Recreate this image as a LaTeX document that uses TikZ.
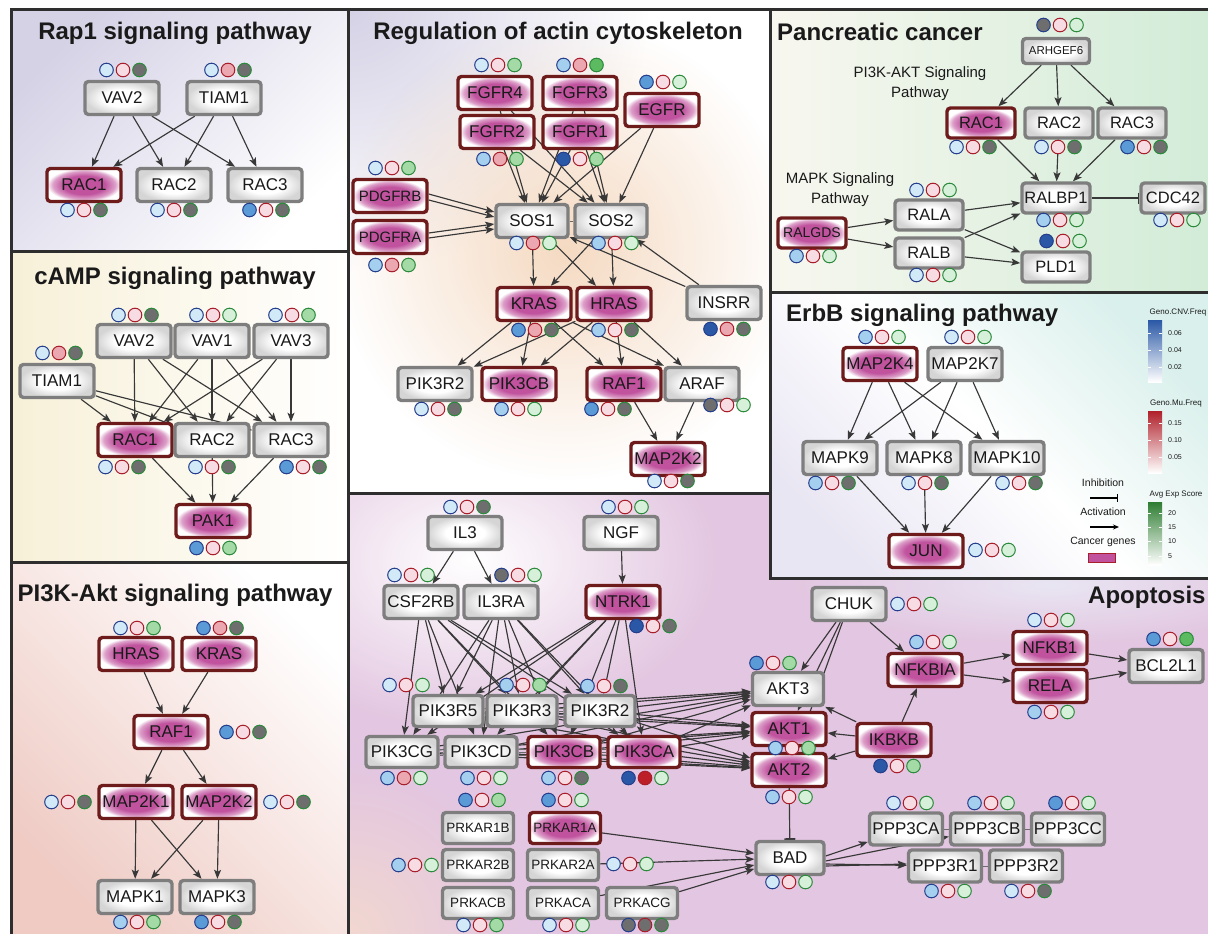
\documentclass[tikz,border=0pt]{standalone}
\usepackage{fontspec}
\setmainfont{Liberation Sans}
\usetikzlibrary{arrows.meta,fadings}

\definecolor{txt}{HTML}{1A1A1A}
\definecolor{edgec}{HTML}{383838}
\definecolor{frm}{HTML}{2E2E2E}
\definecolor{gbord}{HTML}{7E7E7E}
\definecolor{gshade}{HTML}{D5D5D5}
\definecolor{cbord}{HTML}{6E1B1B}
\definecolor{cpA}{HTML}{C0529E}
\definecolor{cpB}{HTML}{DC9FC8}
\definecolor{bbd}{HTML}{253F8C}
\definecolor{rbd}{HTML}{A81F2B}
\definecolor{gbd}{HTML}{2C8A3C}
\definecolor{bA}{HTML}{D2E9F8}
\definecolor{bB}{HTML}{A4CFEE}
\definecolor{bC}{HTML}{5A9AD6}
\definecolor{bD}{HTML}{2A58A6}
\definecolor{gy}{HTML}{6E6E6E}
\definecolor{rA}{HTML}{F8DCE3}
\definecolor{rB}{HTML}{EBA8B1}
\definecolor{rC}{HTML}{BC1F28}
\definecolor{eA}{HTML}{D7F0D9}
\definecolor{eB}{HTML}{A3DAA6}
\definecolor{eC}{HTML}{5CBA61}
\definecolor{lavA}{HTML}{D5D2E6}
\definecolor{creamA}{HTML}{F7F0D8}
\definecolor{salA}{HTML}{EFCBC4}
\definecolor{peachA}{HTML}{F5DAC2}
\definecolor{greenA}{HTML}{D2ECD8}
\definecolor{offw}{HTML}{F8F7EF}
\definecolor{cyanA}{HTML}{DAF0EC}
\definecolor{lavB}{HTML}{E9E6F3}
\definecolor{apink}{HTML}{E3C6E1}
\definecolor{apeach}{HTML}{F2D8D0}
\definecolor{cbBlue}{HTML}{6AA8DE}
\definecolor{cbRed}{HTML}{E04848}
\definecolor{cbRedD}{HTML}{B0202A}
\definecolor{cbGreen}{HTML}{6CC070}
\definecolor{cbGreenD}{HTML}{2E7D32}

\tikzfading[name=softfade, inner color=transparent!0, outer color=transparent!100]

\pgfdeclareradialshading{gglow}{\pgfpoint{0bp}{0bp}}{color(0bp)=(white); color(13bp)=(white); color(25bp)=(gshade); color(50bp)=(gshade)}
\pgfdeclareradialshading{cglow}{\pgfpoint{0bp}{0bp}}{color(0bp)=(cpA); color(14bp)=(cpA); color(21bp)=(cpB); color(25bp)=(white); color(50bp)=(white)}

\pgfdeclarelayer{bg}
\pgfdeclarelayer{edges}
\pgfsetlayers{bg,edges,main}

\newcommand\bdg[5]{%
  \draw[line width=1pt,draw=bbd,fill=#3] (#1-16.5,#2) circle[radius=6.8pt];
  \draw[line width=1pt,draw=rbd,fill=#4] (#1,#2) circle[radius=6.8pt];
  \draw[line width=1pt,draw=gbd,fill=#5] (#1+16.5,#2) circle[radius=6.8pt];}

\tikzset{
  base/.style={rounded corners=3.5pt, line width=3.4pt, minimum width=74pt, minimum height=33pt,
    inner sep=1pt, font=\fontsize{17}{19}\selectfont, text=txt},
  gn/.style={base, draw=gbord, shade, shading=gglow},
  cn/.style={base, draw=cbord, shade, shading=cglow},
  fs15/.style={font=\fontsize{15}{17}\selectfont},
  fs14/.style={font=\fontsize{14}{16}\selectfont},
  fs11/.style={font=\fontsize{11.5}{13}\selectfont},
  pw/.style={minimum width=68pt, minimum height=30pt, font=\fontsize{16.5}{18}\selectfont},
  rw/.style={minimum width=70pt, minimum height=31pt},
  cw/.style={minimum width=72pt, minimum height=31pt},
  sw/.style={minimum width=71pt, minimum height=31pt, font=\fontsize{13.5}{15}\selectfont},
  pp/.style={minimum width=73pt, minimum height=32pt},
  ar/.style={draw=edgec, line width=1.15pt, -{Stealth[length=9pt, width=7pt, inset=2pt]}},
  inh/.style={draw=edgec, line width=1.15pt, -{Bar[width=11pt, line width=1.6pt]}},
  lnk/.style={draw=edgec!75, line width=0.7pt},
  ttl/.style={font=\bfseries\fontsize{24}{26}\selectfont, text=txt, inner sep=0pt},
  sub/.style={font=\fontsize{15}{20}\selectfont, text=txt, align=center, inner sep=0pt},
  lg/.style={font=\fontsize{10.5}{12}\selectfont, text=txt, inner sep=0pt},
  cbt/.style={font=\fontsize{8}{9}\selectfont, text=txt, inner sep=0pt},
  cbl/.style={font=\fontsize{7}{8}\selectfont, text=txt, inner sep=0pt, anchor=west},
  panelframe/.style={draw=frm, line width=3pt}
}

\begin{document}
\begin{tikzpicture}[x=1pt,y=-1pt]
\useasboundingbox (0,0) rectangle (1208,934);

% ---------- backgrounds ----------
\begin{pgfonlayer}{bg}
\fill[white] (0,0) rectangle (1208,934);
\shade[top color=lavA, bottom color=white, shading angle=45] (11,10) rectangle (348,251);
\shade[top color=creamA, bottom color=white, shading angle=90] (11,251) rectangle (348,562);
\shade[top color=salA, bottom color=white, shading angle=135] (11,562) rectangle (348,934);
\begin{scope}
  \clip (348,10) rectangle (770,493);
  \fill[white] (348,10) rectangle (770,493);
  \fill[lavA, path fading=softfade] (348,10) ellipse (300pt and 260pt);
  \fill[peachA, path fading=softfade] (565,250) ellipse (230pt and 230pt);
\end{scope}
\shade[top color=greenA, bottom color=offw, shading angle=-90] (770,10) rectangle (1208,292);
\shade[top color=cyanA, bottom color=lavB, middle color=white, shading angle=-45] (770,292) rectangle (1208,578);
\fill[apink] (348,493) -- (770,493) -- (770,578) -- (1208,578) -- (1208,934) -- (348,934) -- cycle;
\begin{scope}
  \clip (348,493) -- (770,493) -- (770,578) -- (1208,578) -- (1208,934) -- (348,934) -- cycle;
  \fill[white, path fading=softfade] (470,560) ellipse (250pt and 170pt);
  \fill[apeach, path fading=softfade] (348,934) ellipse (170pt and 170pt);
  \fill[lavB, path fading=softfade] (1050,585) ellipse (260pt and 60pt);
\end{scope}
\end{pgfonlayer}

% ---------- titles ----------
\node[ttl] (t1) at (175,33) {Rap1 signaling pathway};
\node[ttl] (t2) at (175,278) {cAMP signaling pathway};
\node[ttl] (t3) at (175,595) {PI3K-Akt signaling pathway};
\node[ttl] (t4) at (558,33) {Regulation of actin cytoskeleton};
\node[ttl,anchor=west] (t5) at (777,32) {Pancreatic cancer};
\node[ttl,anchor=west] (t6) at (786,315) {ErbB signaling pathway};
\node[ttl,anchor=west] (t7) at (1088,597) {Apoptosis};
\node[sub] (pcs1) at (920,84) {PI3K-AKT Signaling\\Pathway};
\node[sub] (pcs2) at (840,190) {MAPK Signaling\\Pathway};

% ---------- nodes ----------
% Rap1
\node[gn] (r1vav2) at (122,98) {VAV2};
\node[gn] (r1tiam1) at (224,98) {TIAM1};
\node[cn] (r1rac1) at (84,185) {RAC1};
\node[gn] (r1rac2) at (174,185) {RAC2};
\node[gn] (r1rac3) at (265,185) {RAC3};
% cAMP
\node[gn] (cavav2) at (134,341) {VAV2};
\node[gn] (cavav1) at (212,341) {VAV1};
\node[gn] (cavav3) at (291,341) {VAV3};
\node[gn] (catiam1) at (57,381) {TIAM1};
\node[cn] (carac1) at (135,440) {RAC1};
\node[gn] (carac2) at (212,440) {RAC2};
\node[gn] (carac3) at (291,440) {RAC3};
\node[cn] (capak1) at (213,521) {PAK1};
% PI3K-Akt
\node[cn] (pkhras) at (136,654) {HRAS};
\node[cn] (pkkras) at (219,654) {KRAS};
\node[cn] (pkraf1) at (171,732) {RAF1};
\node[cn] (pkmap2k1) at (136,802) {MAP2K1};
\node[cn] (pkmap2k2) at (219,802) {MAP2K2};
\node[gn] (pkmapk1) at (135,897) {MAPK1};
\node[gn] (pkmapk3) at (217,897) {MAPK3};
% Regulation of actin cytoskeleton
\node[cn] (rgfgfr4) at (495,93) {FGFR4};
\node[cn] (rgfgfr3) at (580,93) {FGFR3};
\node[cn] (rgegfr) at (662,110) {EGFR};
\node[cn] (rgfgfr2) at (497,132) {FGFR2};
\node[cn] (rgfgfr1) at (580,132) {FGFR1};
\node[cn,fs15] (rgpdgfrb) at (390,196) {PDGFRB};
\node[cn,fs15] (rgpdgfra) at (390,237) {PDGFRA};
\node[gn,minimum width=72pt] (rgsos1) at (532,221) {SOS1};
\node[gn,minimum width=72pt] (rgsos2) at (611,221) {SOS2};
\node[cn] (rgkras) at (534,304) {KRAS};
\node[cn] (rghras) at (614,304) {HRAS};
\node[gn] (rginsrr) at (724,303) {INSRR};
\node[gn] (rgpik3r2) at (435,384) {PIK3R2};
\node[cn] (rgpik3cb) at (519,384) {PIK3CB};
\node[cn] (rgraf1) at (624,384) {RAF1};
\node[gn] (rgaraf) at (702,384) {ARAF};
\node[cn] (rgmap2k2) at (668,459) {MAP2K2};
% Pancreatic cancer
\node[gn,fs11,minimum width=67pt,minimum height=25pt] (pcarhgef6) at (1056,51) {ARHGEF6};
\node[cn,pw] (pcrac1) at (981,123) {RAC1};
\node[gn,pw] (pcrac2) at (1059,123) {RAC2};
\node[gn,pw] (pcrac3) at (1132,123) {RAC3};
\node[gn,pw] (pcralbp1) at (1056,198) {RALBP1};
\node[gn,pw,minimum width=64pt] (pccdc42) at (1173,198) {CDC42};
\node[gn,pw] (pcrala) at (929,215) {RALA};
\node[cn,pw,fs14] (pcralgds) at (812,233) {RALGDS};
\node[gn,pw] (pcralb) at (929,253) {RALB};
\node[gn,pw] (pcpld1) at (1056,267) {PLD1};
% ErbB
\node[cn] (ebmap2k4) at (880,364) {MAP2K4};
\node[gn] (ebmap2k7) at (965,364) {MAP2K7};
\node[gn] (ebmapk9) at (840,458) {MAPK9};
\node[gn] (ebmapk8) at (924,458) {MAPK8};
\node[gn] (ebmapk10) at (1007,458) {MAPK10};
\node[cn] (ebjun) at (926,551) {JUN};
% Apoptosis
\node[gn] (apil3) at (465,533) {IL3};
\node[gn] (apngf) at (621,533) {NGF};
\node[gn] (apcsf2rb) at (421,602) {CSF2RB};
\node[gn] (apil3ra) at (501,602) {IL3RA};
\node[cn] (apntrk1) at (623,602) {NTRK1};
\node[gn,rw] (apr5) at (448,711) {PIK3R5};
\node[gn,rw] (apr3) at (522,711) {PIK3R3};
\node[gn,rw] (apr2) at (600,711) {PIK3R2};
\node[gn,cw] (apcg) at (402,752) {PIK3CG};
\node[gn,cw] (apcd) at (481,752) {PIK3CD};
\node[cn,cw] (apcb) at (564,752) {PIK3CB};
\node[cn,cw] (apca) at (644,752) {PIK3CA};
\node[gn,sw] (apprkar1b) at (478,828) {PRKAR1B};
\node[cn,sw] (apprkar1a) at (565,828) {PRKAR1A};
\node[gn,sw] (apprkar2b) at (478,865) {PRKAR2B};
\node[gn,sw] (apprkar2a) at (563,865) {PRKAR2A};
\node[gn,sw] (apprkacb) at (478,903) {PRKACB};
\node[gn,sw] (apprkaca) at (563,903) {PRKACA};
\node[gn,sw] (apprkacg) at (642,903) {PRKACG};
\node[gn] (apchuk) at (849,604) {CHUK};
\node[gn,minimum width=71pt] (apakt3) at (788,689) {AKT3};
\node[cn] (apakt1) at (789,729) {AKT1};
\node[cn] (apakt2) at (789,770) {AKT2};
\node[cn] (apikbkb) at (894,740) {IKBKB};
\node[cn] (apnfkbia) at (925,670) {NFKBIA};
\node[cn] (apnfkb1) at (1050,648) {NFKB1};
\node[cn] (aprela) at (1050,686) {RELA};
\node[gn] (apbcl2l1) at (1166,666) {BCL2L1};
\node[gn,minimum width=68pt] (apbad) at (790,858) {BAD};
\node[gn,pp] (appppca) at (906,829) {PPP3CA};
\node[gn,pp] (appppcb) at (987,829) {PPP3CB};
\node[gn,pp] (appppcc) at (1068,829) {PPP3CC};
\node[gn,pp] (appppr1) at (945,866) {PPP3R1};
\node[gn,pp] (appppr2) at (1026,866) {PPP3R2};

% ---------- connectors (behind nodes) ----------
\begin{pgfonlayer}{edges}
% Rap1
\foreach \s in {r1vav2,r1tiam1} \foreach \t in {r1rac1,r1rac2,r1rac3} \draw[ar] (\s) -- (\t);
% cAMP
\foreach \s in {cavav2,cavav1,cavav3,catiam1} \foreach \t in {carac1,carac2,carac3} \draw[ar] (\s) -- (\t);
\foreach \s in {carac1,carac2,carac3} \draw[ar] (\s) -- (capak1);
% PI3K-Akt
\foreach \s/\t in {pkhras/pkraf1, pkkras/pkraf1, pkraf1/pkmap2k1, pkraf1/pkmap2k2,
  pkmap2k1/pkmapk1, pkmap2k1/pkmapk3, pkmap2k2/pkmapk1, pkmap2k2/pkmapk3} \draw[ar] (\s) -- (\t);
% Regulation
\foreach \s in {rgfgfr4,rgfgfr3,rgfgfr2,rgfgfr1,rgegfr} \foreach \t in {rgsos1,rgsos2} \draw[ar] (\s) -- (\t);
\draw[ar] ([yshift=2pt]rgpdgfrb.east) -- ([yshift=9pt]rgsos1.west);
\draw[ar] ([yshift=-4pt]rgpdgfrb.east) -- ([yshift=4pt]rgsos1.west);
\draw[ar] ([yshift=4pt]rgpdgfra.east) -- ([yshift=-3pt]rgsos1.west);
\draw[ar] ([yshift=-1pt]rgpdgfra.east) -- ([yshift=-8pt]rgsos1.west);
\draw[lnk] (rgsos1) -- (rgsos2);
\draw[ar] (rginsrr) -- (rgsos1);
\draw[ar] (rginsrr) -- (rgsos2);
\foreach \s in {rgsos1,rgsos2} \foreach \t in {rgkras,rghras} \draw[ar] (\s) -- (\t);
\foreach \s in {rgkras,rghras} \foreach \t in {rgpik3r2,rgpik3cb,rgraf1,rgaraf} \draw[ar] (\s) -- (\t);
\draw[ar] (rgraf1) -- (rgmap2k2);
\draw[ar] (rgaraf) -- (rgmap2k2);
% Pancreatic
\foreach \t in {pcrac1,pcrac2,pcrac3} \draw[ar] (pcarhgef6) -- (\t);
\foreach \s in {pcrac1,pcrac2,pcrac3} \draw[ar] (\s) -- (pcralbp1);
\foreach \s/\t in {pcralgds/pcrala, pcralgds/pcralb, pcrala/pcralbp1, pcrala/pcpld1, pcralb/pcralbp1, pcralb/pcpld1}
  \draw[ar] (\s) -- (\t);
\draw[inh] (pcralbp1) -- (pccdc42);
% ErbB
\foreach \s in {ebmap2k4,ebmap2k7} \foreach \t in {ebmapk9,ebmapk8,ebmapk10} \draw[ar] (\s) -- (\t);
\foreach \s in {ebmapk9,ebmapk8,ebmapk10} \draw[ar] (\s) -- (ebjun);
% Apoptosis
\draw[ar] (apil3) -- (apcsf2rb);
\draw[ar] (apil3) -- (apil3ra);
\draw[ar] (apngf) -- (apntrk1);
\foreach \s in {apcsf2rb,apil3ra,apntrk1} \foreach \t in {apr5,apr3,apr2,apcg,apcd,apcb,apca} \draw[ar] (\s) -- (\t);
\foreach \s in {apr5,apr3,apr2,apcg,apcd,apcb,apca} \foreach \t in {apakt3,apakt1,apakt2} \draw[ar] (\s) -- (\t);
\foreach \a/\b in {apr5/apr3, apr3/apr2, apcg/apcd, apcd/apcb, apcb/apca}
  \foreach \dd in {-3,0,3} \draw[lnk] ([yshift=\dd pt]\a.east) -- ([yshift=\dd pt]\b.west);
\foreach \t in {apakt3,apakt1,apakt2,apnfkbia} \draw[ar] (apchuk) -- (\t);
\foreach \t in {apakt3,apakt1,apakt2,apnfkbia} \draw[ar] (apikbkb) -- (\t);
\draw[ar] (apnfkbia) -- (apnfkb1);
\draw[ar] (apnfkbia) -- (aprela);
\draw[ar] (apnfkb1) -- (apbcl2l1);
\draw[ar] (aprela) -- (apbcl2l1);
\draw[inh] (apakt2) -- (apbad);
\foreach \s in {apprkar1a,apprkar2a,apprkaca,apprkacg} \draw[ar] (\s) -- (apbad);
\draw[ar] ([yshift=2pt]apbad.east) -- (appppca);
\draw[ar] ([yshift=-3pt]apbad.east) -- (appppcb);
\draw[ar] ([yshift=-6pt]apbad.east) -- (appppr1);
\draw[ar] ([yshift=-8pt]apbad.east) -- ([yshift=2pt]appppr1.west);
\draw[lnk] (appppca) -- (appppcb);
\draw[lnk] (appppcb) -- (appppcc);
\draw[lnk] (appppr1) -- (appppr2);
\end{pgfonlayer}

% ---------- badges ----------
% Rap1
\bdg{123}{70}{bA}{rA}{gy}
\bdg{228}{70}{bA}{rB}{gy}
\bdg{84}{210}{bA}{rA}{gy}
\bdg{174}{210}{bA}{rA}{gy}
\bdg{266}{210}{bC}{rA}{gy}
% cAMP
\bdg{135}{315}{bA}{rA}{gy}
\bdg{213}{315}{bA}{rA}{eA}
\bdg{292}{315}{bA}{rA}{eB}
\bdg{59}{353}{bA}{rB}{gy}
\bdg{122}{467}{bA}{rA}{gy}
\bdg{212}{467}{bA}{rA}{gy}
\bdg{303}{467}{bC}{rA}{gy}
\bdg{213}{548}{bC}{rA}{eB}
% PI3K-Akt
\bdg{137}{628}{bA}{rA}{eB}
\bdg{220}{628}{bC}{rB}{gy}
\bdg{243}{732}{bC}{rA}{gy}
\bdg{68}{802}{bA}{rA}{gy}
\bdg{287}{802}{bA}{rA}{gy}
\bdg{137}{922}{bB}{rA}{eB}
\bdg{218}{922}{bC}{rA}{gy}
% Regulation
\bdg{498}{65}{bA}{rA}{eB}
\bdg{580}{65}{bB}{rB}{eC}
\bdg{663}{82}{bC}{rA}{eA}
\bdg{500}{159}{bB}{rB}{eB}
\bdg{580}{159}{bD}{rA}{eB}
\bdg{392}{168}{bA}{rA}{eB}
\bdg{392}{265}{bB}{rB}{eB}
\bdg{533}{243}{bA}{rB}{eA}
\bdg{615}{243}{bB}{rA}{eA}
\bdg{535}{330}{bC}{rB}{gy}
\bdg{615}{330}{bB}{rA}{gy}
\bdg{727}{329}{bD}{rB}{gy}
\bdg{438}{409}{bA}{rA}{gy}
\bdg{518}{409}{bB}{rA}{eA}
\bdg{608}{409}{bC}{rA}{gy}
\bdg{727}{405}{gy}{rA}{eA}
\bdg{671}{481}{bA}{rA}{gy}
% Pancreatic
\bdg{1060}{25}{gy}{rA}{eA}
\bdg{973}{147}{bA}{rA}{gy}
\bdg{1058}{147}{bA}{rA}{gy}
\bdg{1144}{147}{bC}{rA}{gy}
\bdg{933}{190}{bA}{rA}{eA}
\bdg{1060}{220}{bB}{rA}{eA}
\bdg{1177}{220}{bA}{rA}{eA}
\bdg{813}{256}{bB}{rA}{eA}
\bdg{933}{275}{bA}{rA}{eA}
\bdg{1063}{241}{bD}{rA}{eA}
% ErbB
\bdg{882}{337}{bB}{rA}{eA}
\bdg{968}{337}{bA}{rA}{eA}
\bdg{832}{483}{bB}{rA}{gy}
\bdg{925}{483}{bA}{rA}{gy}
\bdg{1019}{483}{bA}{rA}{gy}
\bdg{992}{550}{bA}{rA}{eA}
% Apoptosis
\bdg{467}{507}{bA}{rA}{gy}
\bdg{625}{507}{bA}{rA}{eA}
\bdg{411}{575}{bA}{rA}{eA}
\bdg{518}{575}{gy}{rA}{eA}
\bdg{653}{626}{bD}{rA}{gy}
\bdg{406}{685}{bA}{rA}{eA}
\bdg{523}{685}{bB}{rA}{eB}
\bdg{604}{686}{bB}{rA}{gy}
\bdg{404}{778}{bB}{rB}{eA}
\bdg{484}{778}{bB}{rA}{eA}
\bdg{565}{778}{bB}{rA}{gy}
\bdg{645}{778}{bD}{rC}{eA}
\bdg{482}{800}{bC}{rA}{eB}
\bdg{565}{800}{bC}{rA}{eA}
\bdg{415}{865}{bB}{rA}{eA}
\bdg{630}{864}{bA}{rA}{eA}
\bdg{480}{925}{bA}{rA}{eB}
\bdg{566}{925}{bA}{rA}{eA}
\bdg{645}{925}{gy}{gy}{gy}
\bdg{914}{604}{bA}{rA}{eA}
\bdg{773}{663}{bC}{rA}{eB}
\bdg{792}{748}{bB}{rA}{eB}
\bdg{789}{797}{bB}{rA}{eA}
\bdg{897}{766}{bD}{rA}{eB}
\bdg{933}{642}{bB}{rA}{eA}
\bdg{1051}{620}{bA}{rA}{eA}
\bdg{1051}{712}{bB}{rA}{eA}
\bdg{1170}{639}{bC}{rA}{eC}
\bdg{789}{882}{bA}{rA}{eA}
\bdg{910}{803}{bA}{rA}{eA}
\bdg{991}{803}{bB}{rA}{eA}
\bdg{1072}{803}{bC}{rA}{eA}
\bdg{948}{891}{bB}{rA}{eA}
\bdg{1028}{891}{bA}{rA}{gy}

% ---------- legend ----------
\node[lg] (lgi) at (1103,483) {Inhibition};
\coordinate (lgi1) at (1090,498);
\coordinate (lgi2) at (1118,498);
\draw[draw=black, line width=1.3pt, -{Bar[width=8pt, line width=1.4pt]}] (lgi1) -- (lgi2);
\node[lg] (lga) at (1103,512) {Activation};
\coordinate (lga1) at (1090,527);
\coordinate (lga2) at (1119,527);
\draw[draw=black, line width=1.3pt, -{Stealth[length=6pt, width=5pt]}] (lga1) -- (lga2);
\node[lg] (lgc) at (1103,542) {Cancer genes};
\node[draw=rbd, fill=cpA, line width=1.5pt, minimum width=27pt, minimum height=9pt, inner sep=0pt] (lgbox) at (1102,558) {};

\node[cbt] (cb1t) at (1178,313) {Geno.CNV.Freq};
\shade[top color=bD, middle color=cbBlue, bottom color=white] (1148,320) rectangle (1162,382);
\node[cbl] (cb1a) at (1168,333) {0.06};
\node[cbl] (cb1b) at (1168,350) {0.04};
\node[cbl] (cb1c) at (1168,367) {0.02};
\node[cbt] (cb2t) at (1176,404) {Geno.Mu.Freq};
\shade[top color=cbRedD, middle color=cbRed, bottom color=white] (1148,411) rectangle (1162,473);
\node[cbl] (cb2a) at (1168,423) {0.15};
\node[cbl] (cb2b) at (1168,440) {0.10};
\node[cbl] (cb2c) at (1168,457) {0.05};
\node[cbt] (cb3t) at (1176,495) {Avg Exp Score};
\shade[top color=cbGreenD, middle color=cbGreen, bottom color=white] (1148,502) rectangle (1162,565);
\node[cbl] (cb3a) at (1168,513) {20};
\node[cbl] (cb3b) at (1168,527) {15};
\node[cbl] (cb3c) at (1168,541) {10};
\node[cbl] (cb3d) at (1168,556) {5};
\foreach \yy in {333,350,367,423,440,457,513,527,541,556} {
  \draw[white, line width=0.6pt] (1148,\yy) -- (1151,\yy);
  \draw[white, line width=0.6pt] (1159,\yy) -- (1162,\yy);
}

% ---------- panel frames ----------
\draw[panelframe] (1208,10) -- (11,10) -- (11,934);
\draw[panelframe] (348,10) -- (348,934);
\draw[panelframe] (770,10) -- (770,578) -- (1208,578);
\draw[panelframe] (11,251) -- (348,251);
\draw[panelframe] (11,562) -- (348,562);
\draw[panelframe] (348,493) -- (770,493);
\draw[panelframe] (770,292) -- (1208,292);
\end{tikzpicture}
\end{document}
